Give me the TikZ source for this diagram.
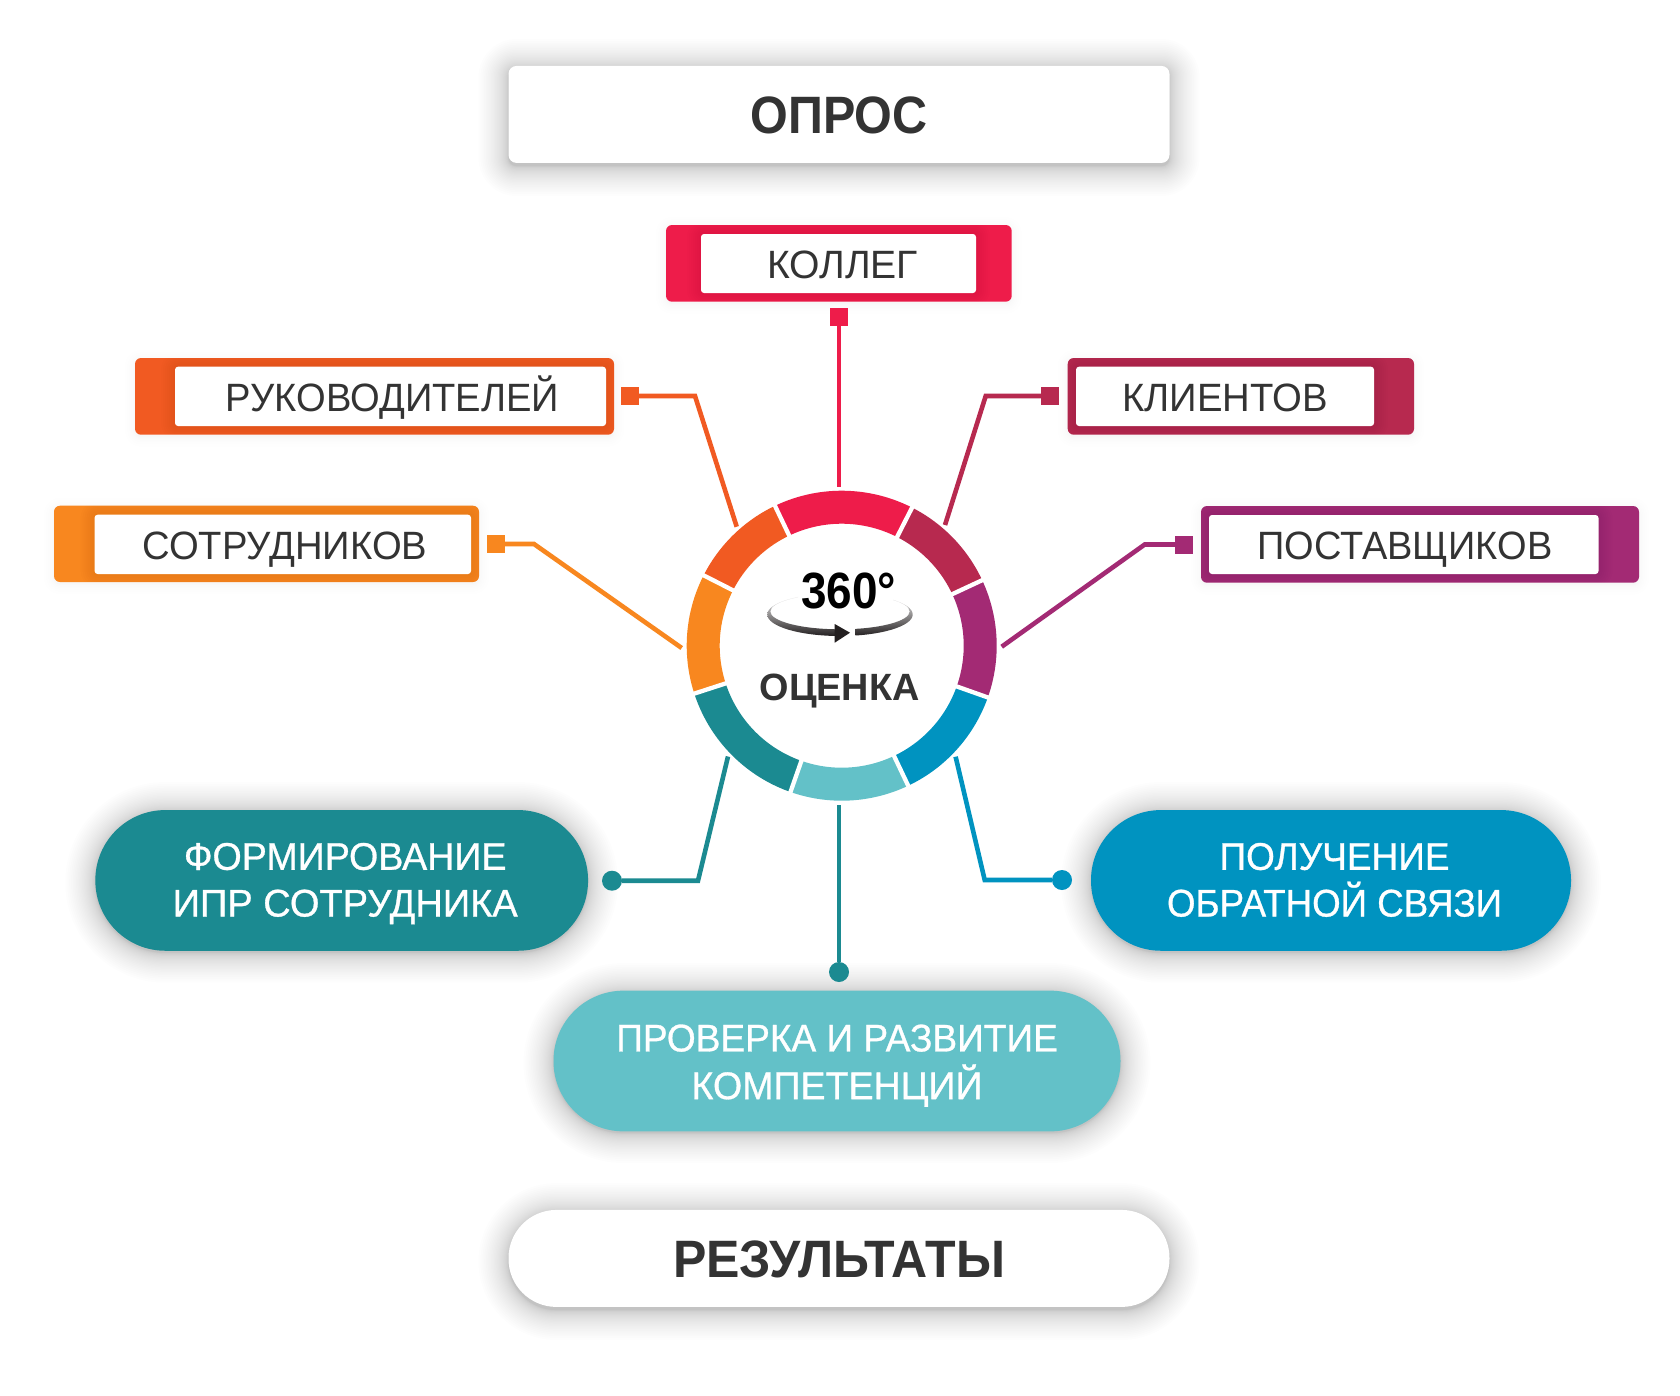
\documentclass[tikz,border=0pt]{standalone}
\usepackage{graphicx}
\usepackage{fontspec}
\setmainfont{Liberation Sans}
\newfontfamily\medfont[FakeBold=0.8]{Liberation Sans}
\definecolor{txt}{HTML}{333333}
\definecolor{cRed}{HTML}{EE1C4A}
\definecolor{cCrim}{HTML}{B7294F}
\definecolor{cPurp}{HTML}{A32A74}
\definecolor{cBlue}{HTML}{0093C0}
\definecolor{cLight}{HTML}{63C1C8}
\definecolor{cTeal}{HTML}{1B8A91}
\definecolor{cOrng}{HTML}{F8871F}
\definecolor{cDark}{HTML}{F15A22}
\definecolor{arrowdark}{HTML}{231F20}
\newcommand{\lbl}[3]{\raisebox{0pt}[#2pt][0pt]{\resizebox{#1pt}{\height}{#3}}}
% soft shadow: x1 y1 x2 y2 radius layers extent alpha exponent
\newcommand{\softshadow}[9]{%
  \foreach \i in {1,...,#6}{%
    \pgfmathsetmacro{\ee}{#7*(\i/#6)^#9}%
    \pgfmathsetmacro{\rr}{#5+\ee}%
    \fill[black,opacity=#8,rounded corners=\rr pt] ({#1-\ee},{#2-\ee}) rectangle ({#3+\ee},{#4+\ee});
  }}
\newcommand{\seg}[3]{%
  \fill[#3] plot[domain=#1:#2,samples=40] ({841.7+155*cos(\x)},{645.7-155*sin(\x)})
    -- plot[domain=#2:#1,samples=40] ({841.7+122*cos(\x)},{645.7-122*sin(\x)}) -- cycle;}
\tikzset{
  plain/.style={inner sep=0pt,outer sep=0pt},
  headbox/.style={plain,fill=white,minimum width=661pt,minimum height=97pt,text=txt,font=\fontsize{52.6}{60}\selectfont\bfseries},
  tagtext/.style={plain,fill=white,rounded corners=3pt,text=txt,font=\fontsize{39.5}{45}\selectfont},
  tagouter/.style={plain,rounded corners=6pt},
  pill/.style={plain,align=center,rounded corners=70pt,minimum height=140.7pt,text=white,font=\fontsize{38.5}{47.7}\selectfont\medfont},
  marker/.style={plain,minimum width=18pt,minimum height=18pt},
  dot/.style={plain,circle,minimum size=20pt},
  conn/.style={line width=4.6pt,miter limit=10}
}
\begin{document}
\begin{tikzpicture}[x=1pt,y=-1pt]
\useasboundingbox (0,0) rectangle (1680,1395);
\fill[white] (0,0) rectangle (1680,1395);

% head and foot boxes
\softshadow{508.5}{69}{1169.5}{166}{8}{30}{30}{0.0065}{2}
\node[headbox,rounded corners=8pt] (opros) at (839,114.4) {\lbl{177}{37.7}{ОПРОС}};
\softshadow{508.5}{1213}{1169.5}{1310}{48}{30}{30}{0.0065}{2}
\node[headbox,rounded corners=48pt] (rezult) at (839,1258.4) {\lbl{332}{37.3}{РЕЗУЛЬТАТЫ}};

% tag boxes
\foreach \n/\a/\b/\c/\d/\e/\f/\g/\h/\col/\tw/\xo/\txtl in {
  kolleg/666/225/1011.7/301.7/701/234/976/293/cRed/151/8/КОЛЛЕГ,
  ruk/135/358/614/434.7/175/366.7/606/426/cDark/333/4/РУКОВОДИТЕЛЕЙ,
  sotr/54/505.7/479/582/94.6/514.7/471/574/cOrng/285/4/СОТРУДНИКОВ,
  klient/1067.7/358/1414/434.7/1076/366.7/1374/426/cCrim/205/0/КЛИЕНТОВ,
  post/1201/506/1639/582.7/1209/515/1598.5/574/cPurp/295/2/ПОСТАВЩИКОВ}{
  \softshadow{\a}{\b+2}{\c}{\d+2}{6}{8}{10}{0.005}{2}
  \pgfmathsetmacro{\ow}{\c-\a}\pgfmathsetmacro{\oh}{\d-\b}
  \pgfmathsetmacro{\iw}{\g-\e}\pgfmathsetmacro{\ih}{\h-\f}
  \node[tagouter,fill=\col,minimum width=\ow pt,minimum height=\oh pt] (\n) at ({(\a+\c)/2},{(\b+\d)/2}) {};
  \begin{scope}
    \clip[rounded corners=6pt] (\a,\b) rectangle (\c,\d);
    \softshadow{\e}{\f}{\g}{\h}{3}{7}{14}{0.009}{1}
  \end{scope}
  \node[tagtext,minimum width=\iw pt,minimum height=\ih pt] (\n in) at ({(\e+\g)/2},{(\f+\h)/2}) {\hspace*{\xo pt}\lbl{\tw}{30.3}{\txtl}};
}

% markers
\node[marker,fill=cRed]  (mkR) at (839,317) {};
\node[marker,fill=cDark] (mkD) at (630,396) {};
\node[marker,fill=cOrng] (mkO) at (496,544) {};
\node[marker,fill=cCrim] (mkC) at (1050,396) {};
\node[marker,fill=cPurp] (mkP) at (1184,544.5) {};

% pills
\softshadow{95.3}{812}{588}{952.7}{70}{30}{30}{0.0065}{2}
\node[pill,fill=cTeal,minimum width=492.7pt] (form) at (341.7,880.4)
  {\hspace*{7pt}\lbl{322.5}{25.5}{ФОРМИРОВАНИЕ}\\[-1pt]\hspace*{7pt}\lbl{345}{0}{ИПР СОТРУДНИКА}};
\softshadow{1091}{812}{1571}{952.7}{70}{30}{30}{0.0065}{2}
\node[pill,fill=cBlue,minimum width=480pt] (polu) at (1331,880.4)
  {\hspace*{7pt}\lbl{230}{25.5}{ПОЛУЧЕНИЕ}\\[-1pt]\hspace*{7pt}\lbl{335}{0}{ОБРАТНОЙ СВЯЗИ}};
\softshadow{553.5}{993}{1120.5}{1133}{70}{30}{30}{0.0065}{2}
\node[pill,fill=cLight,minimum width=567pt] (prov) at (837,1061)
  {\lbl{441.5}{28.5}{ПРОВЕРКА И РАЗВИТИЕ}\\\lbl{291}{0}{КОМПЕТЕНЦИЙ}};

% dots
\node[dot,fill=cTeal] (dtL) at (612,880.7) {};
\node[dot,fill=cTeal] (dtM) at (839,972) {};
\node[dot,fill=cBlue] (dtR) at (1062,880) {};

% ring
\seg{115.5}{63}{cRed}
\seg{63}{25}{cCrim}
\seg{25}{-19.5}{cPurp}
\seg{-19.5}{-64.6}{cBlue}
\seg{-64.6}{-109.3}{cLight}
\seg{-109.3}{-162}{cTeal}
\seg{153}{198}{cOrng}
\seg{115.5}{153}{cDark}
\foreach \ang in {115.5,63,25,-19.5,-64.6,-109.3,-162,153}{
  \draw[white,line width=4.3pt] ({841.7+118*cos(\ang)},{645.7-118*sin(\ang)}) -- ({841.7+159*cos(\ang)},{645.7-159*sin(\ang)});
}

% connector ends and bends
\coordinate (eR) at (839,486.7);
\coordinate (bD) at (695,396);   \coordinate (eD) at (736.7,526.7);
\coordinate (bO) at (534,544);   \coordinate (eO) at (681.7,648);
\coordinate (bC) at (985.7,396); \coordinate (eC) at (945,525);
\coordinate (bP) at (1144.7,544.5); \coordinate (eP) at (1001.7,646.7);
\coordinate (bL) at (698,880.7); \coordinate (eL) at (728,756.5);
\coordinate (eM) at (839,805);
\coordinate (bB) at (984.7,880); \coordinate (eB) at (955.6,756.7);

\draw[conn,cRed]  (mkR) -- (eR);
\draw[conn,cDark] (mkD) -- (bD) -- (eD);
\draw[conn,cOrng] (mkO) -- (bO) -- (eO);
\draw[conn,cCrim] (mkC) -- (bC) -- (eC);
\draw[conn,cPurp] (mkP) -- (bP) -- (eP);
\draw[conn,cTeal] (dtL) -- (bL) -- (eL);
\draw[conn,cTeal] (dtM) -- (eM);
\draw[conn,cBlue] (dtR) -- (bB) -- (eB);

% rotation arrow
\begin{scope}
  \clip (760,590) rectangle (798,645) (798,612) rectangle (836,645);
  \shade[even odd rule,top color=white,middle color=black!55,bottom color=arrowdark]
    (840,614.5) ellipse [x radius=72.7,y radius=21.5]
    (840,611.5) ellipse [x radius=69.7,y radius=17.8];
\end{scope}
\begin{scope}
  \clip (893,590) rectangle (920,645) (855.7,612) rectangle (893,645);
  \shade[even odd rule,top color=white,middle color=black!55,bottom color=arrowdark]
    (840,614.5) ellipse [x radius=72.7,y radius=21.5]
    (840,611.5) ellipse [x radius=69.7,y radius=17.8];
\end{scope}
\fill[arrowdark] (834.7,624) -- (850,632.7) -- (834.7,642.7) -- cycle;

% centre texts
\node[plain,anchor=base,text=black,font=\fontsize{51}{58}\selectfont\bfseries] (deg) at (848.5,608.7) {\resizebox{95pt}{\height}{360°}};
\node[plain,anchor=base,text=txt,font=\fontsize{38}{44}\selectfont\bfseries] (ocenka) at (839.6,700) {\resizebox{160pt}{\height}{ОЦЕНКА}};
\end{tikzpicture}
\end{document}
